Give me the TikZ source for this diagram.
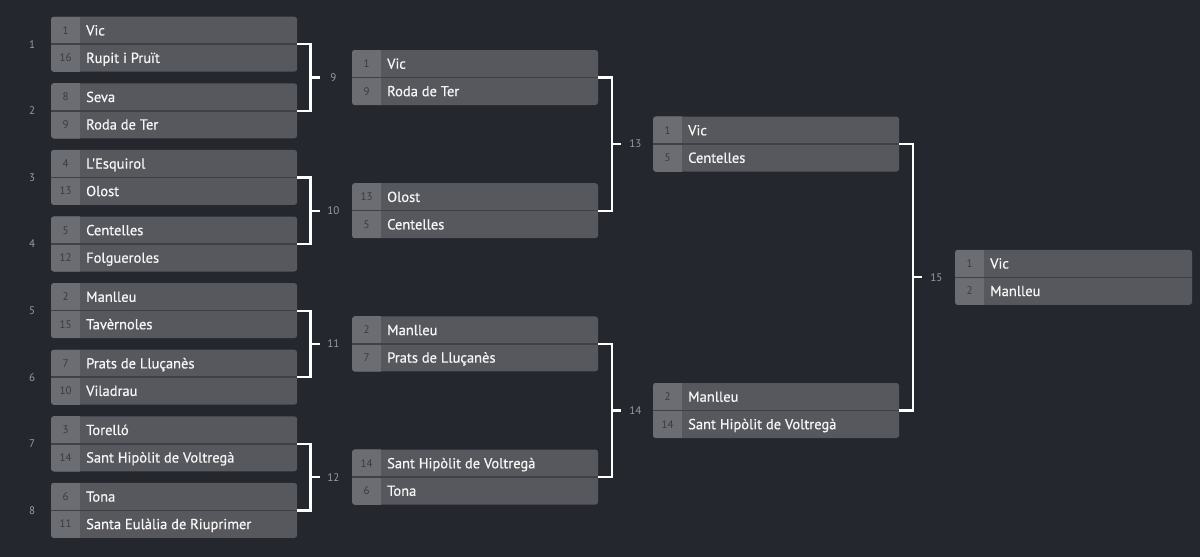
\documentclass[tikz,border=0pt]{standalone}
\usepackage{fontspec}
\setmainfont{PT Sans}
\newfontfamily\namefont{PT Sans}[FakeBold=0.6]
\definecolor{bgc}{HTML}{25272F}
\definecolor{boxc}{HTML}{57575E}
\definecolor{seedc}{HTML}{6C6C73}
\definecolor{divc}{HTML}{404047}
\definecolor{namec}{HTML}{F6F6F6}
\definecolor{seedtc}{HTML}{3A3A40}
\definecolor{lblc}{HTML}{9A9AA2}
\tikzset{
  matchbox/.style={rectangle, fill=boxc, rounded corners=3pt, minimum height=55pt, inner sep=0pt, anchor=north west},
  divider/.style={draw=divc, line width=1.5pt},
  seedtxt/.style={inner sep=0pt, anchor=base, text=seedtc, font=\fontsize{11}{12}\selectfont},
  nametxt/.style={inner sep=0pt, anchor=base west, text=namec, font=\namefont\fontsize{14.5}{16}\selectfont},
  lbltxt/.style={inner sep=0pt, text=lblc, font=\fontsize{11}{12}\selectfont},
  bracket/.style={draw=white, line width=2.2pt}
}
\newcommand\matchpair[8]{%
  \node[matchbox, minimum width=#4pt] (#1) at (#2,#3) {};
  \begin{scope}
    \clip[rounded corners=3pt] (#1.north west) rectangle (#1.south east);
    \fill[seedc] (#1.north west) rectangle ([xshift=29pt]#1.south west);
  \end{scope}
  \draw[divider] (#1.west) -- (#1.east);
  \node[seedtxt] (#1sa) at ([xshift=14.5pt,yshift=10pt]#1.west) {#5};
  \node[seedtxt] (#1sb) at ([xshift=14.5pt,yshift=-17.5pt]#1.west) {#7};
  \node[nametxt] (#1ta) at ([xshift=35pt,yshift=8.8pt]#1.west) {#6};
  \node[nametxt] (#1tb) at ([xshift=35pt,yshift=-18.7pt]#1.west) {#8};
}
\begin{document}
\begin{tikzpicture}[x=1pt,y=-1pt]
\fill[bgc] (0,0) rectangle (1200,557);
\useasboundingbox (0,0) rectangle (1200,557);
% round 1
\matchpair{m1}{51}{16.5}{246}{1}{Vic}{16}{Rupit i Pruït}
\matchpair{m2}{51}{83.1}{246}{8}{Seva}{9}{Roda de Ter}
\matchpair{m3}{51}{149.7}{246}{4}{L'Esquirol}{13}{Olost}
\matchpair{m4}{51}{216.3}{246}{5}{Centelles}{12}{Folgueroles}
\matchpair{m5}{51}{282.9}{246}{2}{Manlleu}{15}{Tavèrnoles}
\matchpair{m6}{51}{349.5}{246}{7}{Prats de Lluçanès}{10}{Viladrau}
\matchpair{m7}{51}{416.1}{246}{3}{Torelló}{14}{Sant Hipòlit de Voltregà}
\matchpair{m8}{51}{482.7}{246}{6}{Tona}{11}{Santa Eulàlia de Riuprimer}
% round 2
\matchpair{m9}{352}{49.8}{246}{1}{Vic}{9}{Roda de Ter}
\matchpair{m10}{352}{183}{246}{13}{Olost}{5}{Centelles}
\matchpair{m11}{352}{316.2}{246}{2}{Manlleu}{7}{Prats de Lluçanès}
\matchpair{m12}{352}{449.4}{246}{14}{Sant Hipòlit de Voltregà}{6}{Tona}
% round 3
\matchpair{m13}{653}{116.4}{246}{1}{Vic}{5}{Centelles}
\matchpair{m14}{653}{382.8}{246}{2}{Manlleu}{14}{Sant Hipòlit de Voltregà}
% final
\matchpair{m15}{955}{249.6}{237}{1}{Vic}{2}{Manlleu}
% left labels
\foreach \i in {1,...,8}{\node[lbltxt] (r\i) at ([xshift=-19pt]m\i.west) {\i};}
% brackets round 1 -> 2
\foreach \a/\b/\m in {1/2/9,3/4/10,5/6/11,7/8/12}{
  \path (m\a.east) -- (m\b.east) coordinate[pos=0.5] (mid\m);
  \coordinate (j\m) at ([xshift=13pt]mid\m);
  \coordinate (k\m) at ([xshift=23pt]mid\m);
  \draw[bracket] (m\a.east) -| (j\m) |- (m\b.east);
  \draw[bracket] (j\m) -- (k\m);
  \node[lbltxt] (l\m) at ([xshift=36pt]mid\m) {\m};
}
% brackets round 2 -> 3, 3 -> 4
\foreach \a/\b/\m in {9/10/13,11/12/14,13/14/15}{
  \path (m\a.east) -- (m\b.east) coordinate[pos=0.5] (mid\m);
  \coordinate (j\m) at ([xshift=13.5pt]mid\m);
  \coordinate (k\m) at ([xshift=23pt]mid\m);
  \draw[bracket] (m\a.east) -| (j\m) |- (m\b.east);
  \draw[bracket] (j\m) -- (k\m);
  \node[lbltxt] (l\m) at ([xshift=37pt]mid\m) {\m};
}
\end{tikzpicture}
\end{document}
